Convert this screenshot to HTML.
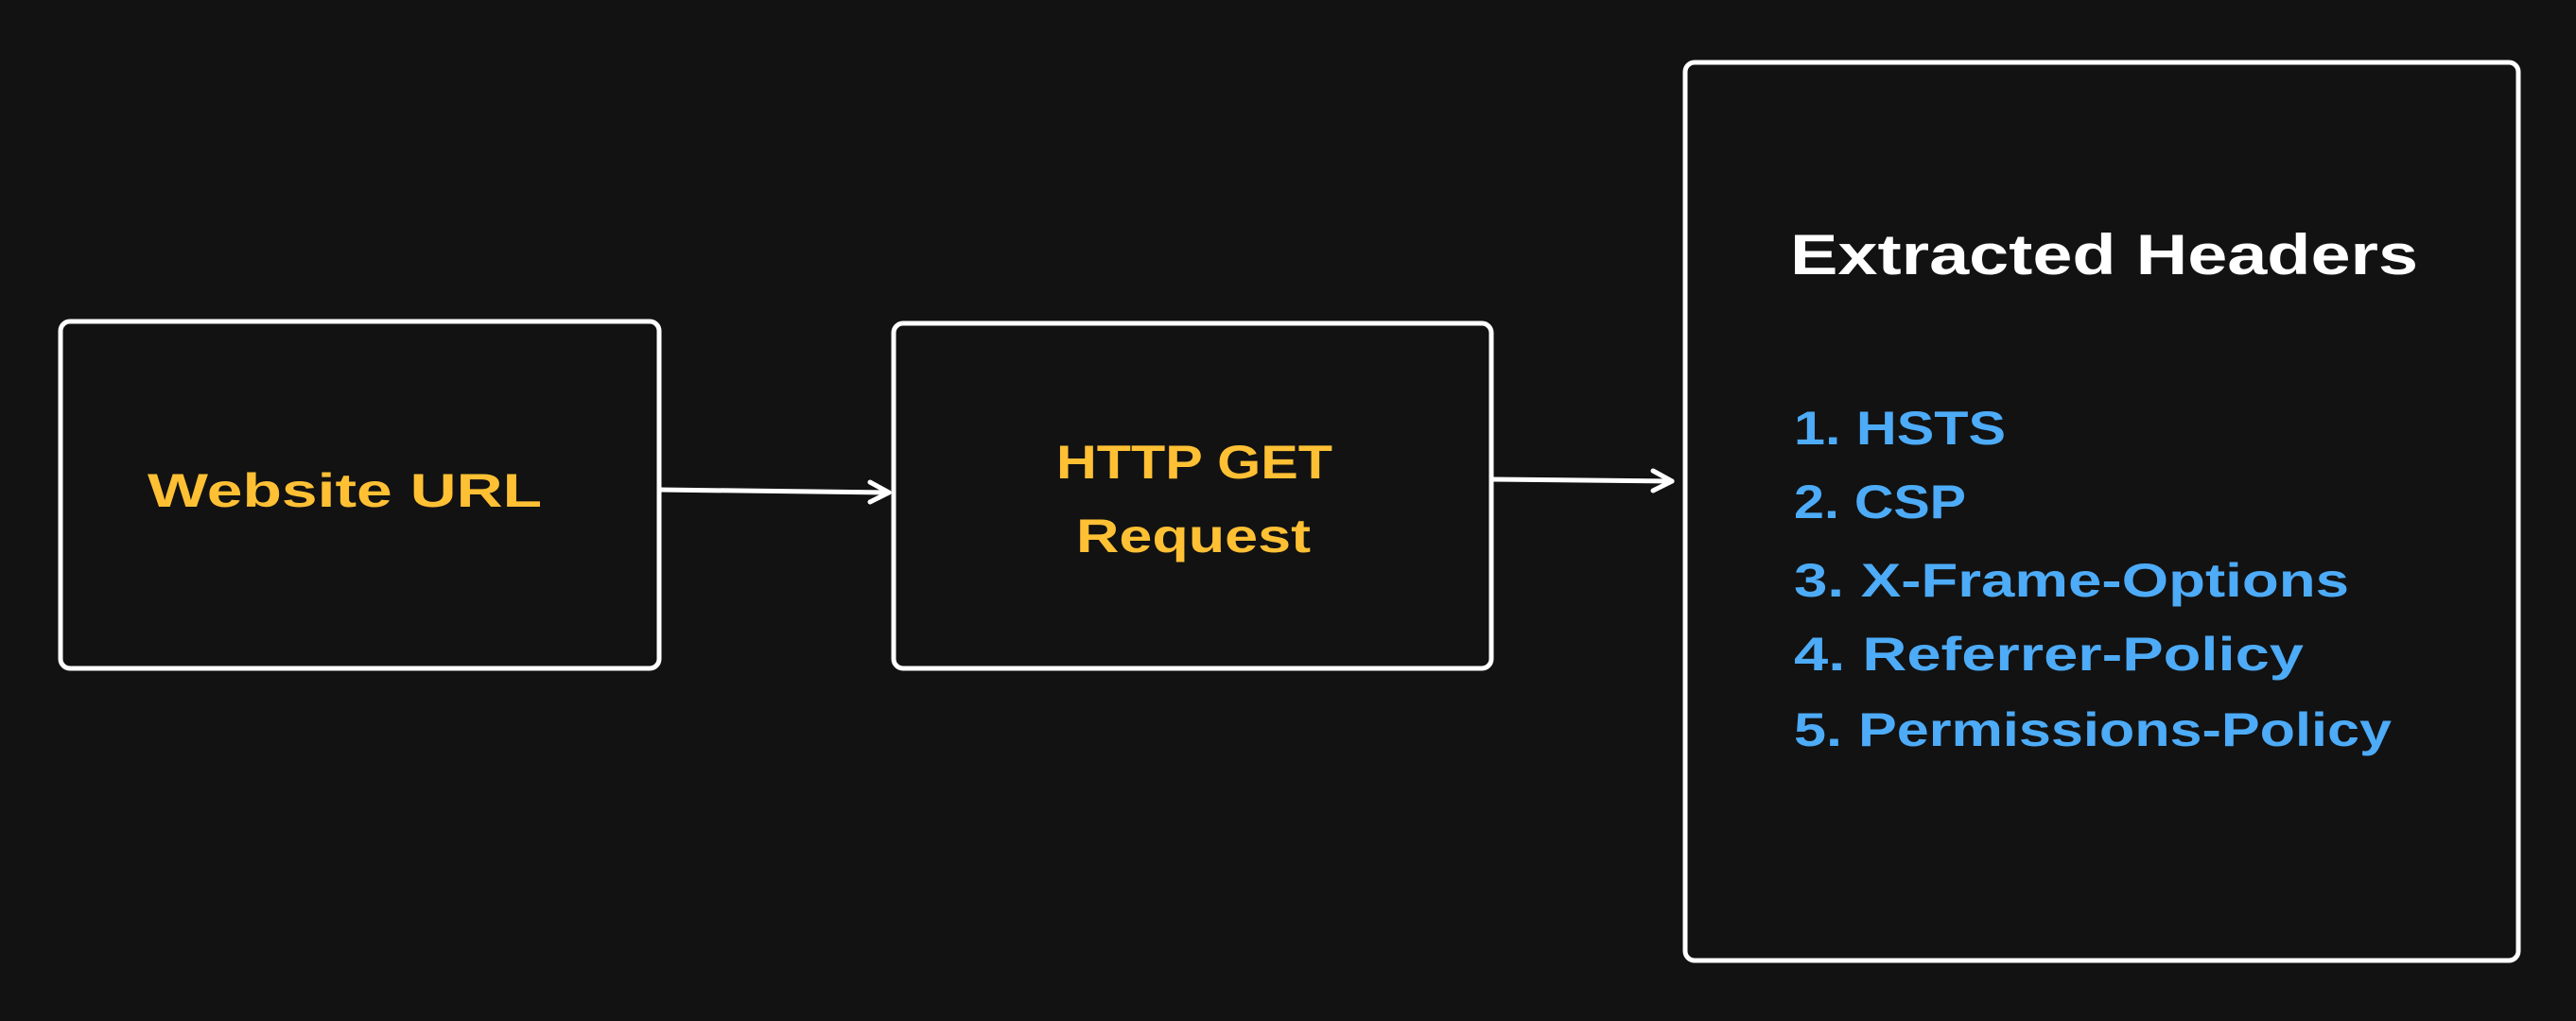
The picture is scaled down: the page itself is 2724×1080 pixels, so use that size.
<!DOCTYPE html>
<html><head><meta charset="utf-8"><style>
html,body{margin:0;padding:0;background:#121212;}
svg{display:block}
text{font-family:"Liberation Sans",sans-serif;font-weight:bold;}
</style></head><body>
<svg width="2724" height="1080" viewBox="0 0 2724 1080" xmlns="http://www.w3.org/2000/svg">
<rect width="2724" height="1080" fill="#121212"/>
<g fill="none" stroke="#ffffff" stroke-width="5" stroke-linecap="round" stroke-linejoin="round">
<rect x="64" y="340" width="633" height="367" rx="10"/>
<rect x="945" y="342" width="632" height="365" rx="10"/>
<rect x="1782" y="66" width="881" height="950" rx="10"/>
<path d="M697 518 L940 521"/>
<path d="M920 510 L940 521 L920 531"/>
<path d="M1577 507 L1768 509"/>
<path d="M1748 498 L1768 509 L1748 519"/>
</g>
<g fill="#ffc034" font-size="50">
<text x="156" y="536" textLength="417" lengthAdjust="spacingAndGlyphs">Website URL</text>
<text x="1117" y="506" textLength="292" lengthAdjust="spacingAndGlyphs">HTTP GET</text>
<text x="1138" y="584" textLength="248" lengthAdjust="spacingAndGlyphs">Request</text>
</g>
<text x="1893" y="290" font-size="60" fill="#ffffff" textLength="664" lengthAdjust="spacingAndGlyphs">Extracted Headers</text>
<g fill="#4dabf7" font-size="50">
<text x="1897" y="470" textLength="224" lengthAdjust="spacingAndGlyphs">1. HSTS</text>
<text x="1897" y="548" textLength="182" lengthAdjust="spacingAndGlyphs">2. CSP</text>
<text x="1897" y="631" textLength="587" lengthAdjust="spacingAndGlyphs">3. X-Frame-Options</text>
<text x="1897" y="709" textLength="539" lengthAdjust="spacingAndGlyphs">4. Referrer-Policy</text>
<text x="1897" y="789" textLength="632" lengthAdjust="spacingAndGlyphs">5. Permissions-Policy</text>
</g>
</svg>
</body></html>
